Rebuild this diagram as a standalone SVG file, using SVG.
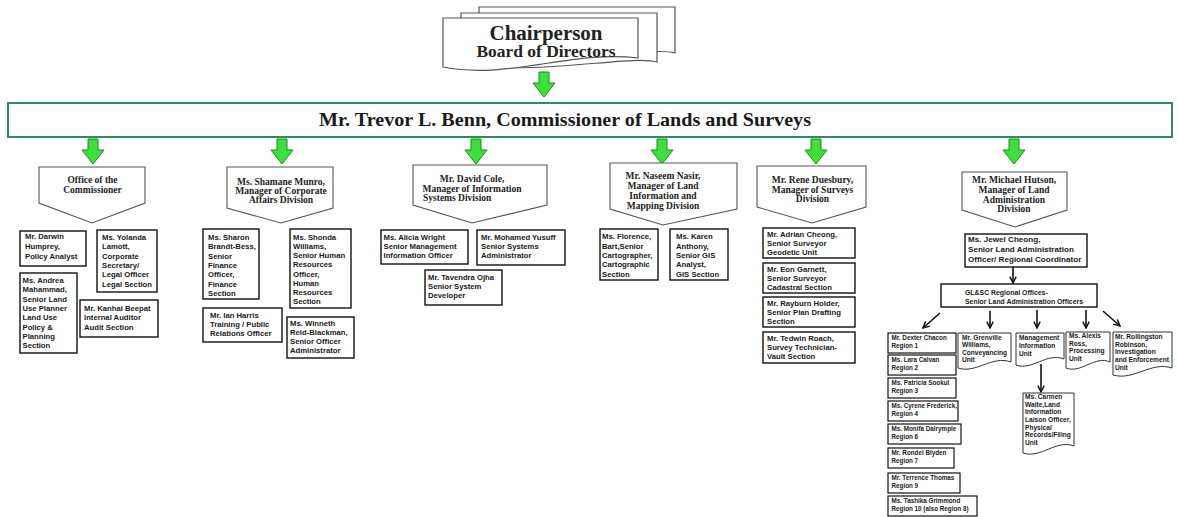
<svg xmlns="http://www.w3.org/2000/svg" xmlns:xlink="http://www.w3.org/1999/xlink" width="1178" height="517" viewBox="0 0 1178 517">
<style>
.doc{fill:#fff;stroke:#555;stroke-width:1.2}
.pent{fill:#fff;stroke:#555;stroke-width:1.1}
.box{fill:#fff;stroke:#111;stroke-width:1.4}
.rbox{fill:#fff;stroke:#111;stroke-width:1.2}
.wdoc{fill:#fff;stroke:#333;stroke-width:1}
.p{font-family:"Liberation Serif",serif;font-weight:bold;font-size:9.5px;fill:#222;text-anchor:middle}
.b{font-family:"Liberation Sans",Arial,sans-serif;font-weight:bold;font-size:7.7px;fill:#1a1a1a}
.s{font-family:"Liberation Sans",Arial,sans-serif;font-weight:bold;font-size:6.3px;fill:#1a1a1a}
.d{font-family:"Liberation Sans",Arial,sans-serif;font-weight:bold;font-size:6.6px;fill:#1a1a1a}
.garrow{fill:#3be03b;stroke:#1f8a1f;stroke-width:1}
.conn{stroke:#111;stroke-width:1.6;fill:none;marker-end:url(#ah)}
</style>
<defs>
<polygon id="ga" points="-5,0 5,0 5,11 11,11 0,25 -11,11 -5,11"/>
<marker id="ah" viewBox="0 0 10 10" refX="9" refY="5" markerWidth="8" markerHeight="8" orient="auto" markerUnits="userSpaceOnUse">
<path d="M1,1 L9,5 L1,9" fill="none" stroke="#111" stroke-width="1.8"/>
</marker>
</defs>
<rect width="1178" height="517" fill="#fff"/>

<g id="chairperson">
<path class="doc" d="M479,7 H675 V53 C650,46 560,66 479,60 Z"/>
<path class="doc" d="M461,13 H657 V62 C630,55 550,74 461,66 Z"/>
<path class="doc" d="M443,18 H638 V58 C570,50 510,80 443,67 Z"/>
<text x="546" y="40" font-family="Liberation Serif,serif" font-weight="bold" font-size="20" fill="#222" text-anchor="middle" textLength="113" lengthAdjust="spacingAndGlyphs">Chairperson</text>
<text x="546" y="57" font-family="Liberation Serif,serif" font-weight="bold" font-size="16" fill="#222" text-anchor="middle" textLength="139" lengthAdjust="spacingAndGlyphs">Board of Directors</text>
</g>

<g id="commissioner">
<rect x="8" y="103" width="1164" height="34" fill="#fff" stroke="#2f8a5c" stroke-width="2"/>
<text x="565" y="126" font-family="Liberation Serif,serif" font-weight="bold" font-size="19" fill="#1a1a1a" text-anchor="middle" textLength="492" lengthAdjust="spacingAndGlyphs">Mr. Trevor L. Benn, Commissioner of Lands and Surveys</text>
</g>

<g id="connectors">
<use href="#ga" class="garrow" x="544" y="72"/>
<use href="#ga" class="garrow" x="93" y="139"/>
<use href="#ga" class="garrow" x="282" y="139"/>
<use href="#ga" class="garrow" x="476" y="139"/>
<use href="#ga" class="garrow" x="662" y="139"/>
<use href="#ga" class="garrow" x="816" y="139"/>
<use href="#ga" class="garrow" x="1014" y="139"/>
<path class="conn" d="M1013,267 L1013,283"/>
<path class="conn" d="M940,313 L923,328"/>
<path class="conn" d="M990,311 L990,328"/>
<path class="conn" d="M1037,310 L1037,328"/>
<path class="conn" d="M1086,310 L1086,328"/>
<path class="conn" d="M1103,311 L1120,326"/>
<path class="conn" d="M1041,364 L1041,392"/>
</g>

<g id="office-commissioner">
<path class="pent" d="M39,167 H145 V203 L92,223 L39,203 Z"/>
<text class="p" x="92.5" y="183">Office of the</text>
<text class="p" x="92.5" y="193">Commissioner</text>
</g>
<g id="darwin"><rect class="box" x="20" y="231" width="66" height="35"/>
<text class="b" x="25" y="239">Mr. Darwin</text><text class="b" x="25" y="249">Humprey,</text><text class="b" x="25" y="258.5">Policy Analyst</text></g>
<g id="yolanda"><rect class="box" x="97" y="230" width="60" height="62"/>
<text class="b" x="102" y="240">Ms. Yolanda</text><text class="b" x="102" y="249.3">Lamott,</text><text class="b" x="102" y="258.7">Corporate</text><text class="b" x="102" y="268">Secretary/</text><text class="b" x="102" y="277.3">Legal Officer</text><text class="b" x="102" y="286.7">Legal Section</text></g>
<g id="andrea"><rect class="box" x="20" y="273" width="57" height="80"/>
<text class="b" x="22.5" y="282.7">Ms. Andrea</text><text class="b" x="22.5" y="292.2">Mahammad,</text><text class="b" x="22.5" y="301.7">Senior Land</text><text class="b" x="22.5" y="311">Use Planner</text><text class="b" x="22.5" y="320.3">Land Use</text><text class="b" x="22.5" y="329.5">Policy &amp;</text><text class="b" x="22.5" y="339">Planning</text><text class="b" x="22.5" y="348.3">Section</text></g>
<g id="kanhai"><rect class="box" x="80" y="300" width="78" height="37"/>
<text class="b" x="84" y="310.7">Mr. Kanhai Beepat</text><text class="b" x="84" y="320.2">Internal Auditor</text><text class="b" x="84" y="329.7">Audit Section</text></g>

<g id="shamane">
<path class="pent" d="M227,167 H333 V208 L281,223 L227,208 Z"/>
<text class="p" x="281" y="185">Ms. Shamane Munro,</text>
<text class="p" x="281" y="194">Manager of Corporate</text>
<text class="p" x="281" y="203">Affairs Division</text>
</g>
<g id="sharon"><rect class="box" x="203" y="229" width="56" height="70"/>
<text class="b" x="208" y="240">Ms. Sharon</text><text class="b" x="208" y="249.3">Brandt-Bess,</text><text class="b" x="208" y="258.6">Senior</text><text class="b" x="208" y="267.9">Finance</text><text class="b" x="208" y="277.2">Officer,</text><text class="b" x="208" y="286.5">Finance</text><text class="b" x="208" y="295.8">Section</text></g>
<g id="shonda"><rect class="box" x="290" y="229" width="61" height="79"/>
<text class="b" x="293" y="240">Ms. Shonda</text><text class="b" x="293" y="249">Williams,</text><text class="b" x="293" y="258">Senior Human</text><text class="b" x="293" y="267.3">Resources</text><text class="b" x="293" y="276.7">Officer,</text><text class="b" x="293" y="286">Human</text><text class="b" x="293" y="295">Resources</text><text class="b" x="293" y="304">Section</text></g>
<g id="ian"><rect class="box" x="203" y="308" width="79" height="34"/>
<text class="b" x="210" y="318">Mr. Ian Harris</text><text class="b" x="210" y="327">Training / Public</text><text class="b" x="210" y="336">Relations Officer</text></g>
<g id="winneth"><rect class="box" x="287" y="317" width="67" height="41"/>
<text class="b" x="290" y="326">Ms. Winneth</text><text class="b" x="290" y="335">Reid-Blackman,</text><text class="b" x="290" y="344">Senior Officer</text><text class="b" x="290" y="353">Administrator</text></g>

<g id="david">
<path class="pent" d="M413,165 H547 V205 L472,223 L413,205 Z"/>
<text class="p" x="472" y="182">Mr. David  Cole,</text>
<text class="p" x="472" y="192">Manager of Information</text>
<text class="p" x="423" y="201" style="text-anchor:start">Systems Division</text>
</g>
<g id="alicia"><rect class="box" x="381" y="230" width="87" height="34"/>
<text class="b" x="383.5" y="240">Ms. Alicia Wright</text><text class="b" x="383.5" y="249">Senior Management</text><text class="b" x="383.5" y="258">Information Officer</text></g>
<g id="mohamed"><rect class="box" x="477" y="230" width="88" height="35"/>
<text class="b" x="481" y="240">Mr. Mohamed Yusuff</text><text class="b" x="481" y="249">Senior Systems</text><text class="b" x="481" y="258">Administrator</text></g>
<g id="tavendra"><rect class="box" x="425" y="270" width="77" height="35"/>
<text class="b" x="428" y="280">Mr. Tavendra Ojha</text><text class="b" x="428" y="289">Senior System</text><text class="b" x="428" y="298">Developer</text></g>

<g id="naseem">
<path class="pent" d="M610,163 H737 V209 L663,225 L610,209 Z"/>
<text class="p" x="663" y="179">Mr. Naseem Nasir,</text>
<text class="p" x="663" y="189">Manager of Land</text>
<text class="p" x="663" y="199">Information and</text>
<text class="p" x="663" y="209">Mapping Division</text>
</g>
<g id="florence"><rect class="box" x="600" y="229" width="58" height="51"/>
<text class="b" x="602" y="239.3">Ms. Florence,</text><text class="b" x="602" y="248.5">Bart,Senior</text><text class="b" x="602" y="257.8">Cartographer,</text><text class="b" x="602" y="267.2">Cartographic</text><text class="b" x="602" y="276.6">Section</text></g>
<g id="karen"><rect class="box" x="670" y="229" width="58" height="51"/>
<text class="b" x="676" y="239.3">Ms. Karen</text><text class="b" x="676" y="248.5">Anthony,</text><text class="b" x="676" y="257.8">Senior GIS</text><text class="b" x="676" y="267.2">Analyst,</text><text class="b" x="676" y="276.6">GIS Section</text></g>

<g id="rene">
<path class="pent" d="M757,166 H866 V207 L812,223 L757,207 Z"/>
<text class="p" x="812.5" y="183">Mr. Rene Duesbury,</text>
<text class="p" x="812.5" y="192.5">Manager of Surveys</text>
<text class="p" x="812.5" y="202">Division</text>
</g>
<g id="adrian"><rect class="box" x="763" y="228" width="92" height="30"/>
<text class="b" x="767" y="236.7">Mr. Adrian Cheong,</text><text class="b" x="767" y="246">Senior Surveyor</text><text class="b" x="767" y="255">Geodetic Unit</text></g>
<g id="eon"><rect class="box" x="763" y="263" width="92" height="30"/>
<text class="b" x="767" y="271.7">Mr. Eon Garnett,</text><text class="b" x="767" y="281">Senior Surveyor</text><text class="b" x="767" y="290">Cadastral Section</text></g>
<g id="rayburn"><rect class="box" x="763" y="297" width="92" height="30"/>
<text class="b" x="767" y="305.5">Mr. Rayburn Holder,</text><text class="b" x="767" y="314.5">Senior Plan Drafting</text><text class="b" x="767" y="323.5">Section</text></g>
<g id="tedwin"><rect class="box" x="763" y="332" width="92" height="31"/>
<text class="b" x="767" y="340.5">Mr. Tedwin Roach,</text><text class="b" x="767" y="349.5">Survey Technician-</text><text class="b" x="767" y="358.5">Vault Section</text></g>

<g id="michael">
<path class="pent" d="M962,172 H1067 V210 L1015,227 L962,210 Z"/>
<text class="p" x="1014" y="183">Mr. Michael Hutson,</text>
<text class="p" x="1014" y="193">Manager of Land</text>
<text class="p" x="1014" y="202.5">Administration</text>
<text class="p" x="1014" y="212">Division</text>
</g>
<g id="jewel"><rect class="box" x="965" y="234" width="122" height="33"/>
<text class="b" x="968" y="241.5" style="font-size:8.1px">Ms. Jewel Cheong,</text><text class="b" x="968" y="251.5" style="font-size:8.1px">Senior Land Administration</text><text class="b" x="968" y="261.5" style="font-size:8.1px">Officer/ Regional Coordinator</text></g>
<g id="glsc"><rect class="box" x="941" y="284" width="156" height="23"/>
<text class="d" x="965" y="295" style="font-size:6.9px">GL&amp;SC Regional Offices-</text><text class="d" x="965" y="304" style="font-size:6.9px">Senior Land Administration Officers</text></g>

<g id="dexter"><rect class="rbox" x="888" y="333" width="68" height="20"/>
<text class="s" x="891.5" y="340.3">Mr. Dexter Chacon</text><text class="s" x="891.5" y="348">Region 1</text></g>
<g id="lara"><rect class="rbox" x="888" y="355" width="68" height="20"/>
<text class="s" x="891.5" y="362">Ms. Lara Calvan</text><text class="s" x="891.5" y="370">Region 2</text></g>
<g id="patricia"><rect class="rbox" x="888" y="378" width="68" height="20"/>
<text class="s" x="891.5" y="385">Ms. Patricia Sookul</text><text class="s" x="891.5" y="393">Region 3</text></g>
<g id="cyrene"><rect class="rbox" x="888" y="401" width="70" height="20"/>
<text class="s" x="891.5" y="408">Ms. Cyrene Frederick,</text><text class="s" x="891.5" y="416">Region 4</text></g>
<g id="monifa"><rect class="rbox" x="888" y="424" width="73" height="20"/>
<text class="s" x="891.5" y="431">Ms. Monifa Dalrymple</text><text class="s" x="891.5" y="439">Region 6</text></g>
<g id="rondel"><rect class="rbox" x="888" y="448" width="66" height="20"/>
<text class="s" x="891.5" y="455">Mr. Rondel Blyden</text><text class="s" x="891.5" y="463">Region 7</text></g>
<g id="terrence"><rect class="rbox" x="888" y="473" width="72" height="20"/>
<text class="s" x="891.5" y="480">Mr. Terrence Thomas</text><text class="s" x="891.5" y="488">Region 9</text></g>
<g id="tashika"><rect class="rbox" x="888" y="496" width="89" height="20"/>
<text class="s" x="891.5" y="503">Ms. Tashika Grimmond</text><text class="s" x="891.5" y="511">Region 10 (also Region 8)</text></g>

<g id="grenville"><path class="wdoc" d="M958,333 H1011 V362 C992,355 976,374 958,368 Z"/>
<text class="d" x="962" y="339.5">Mr. Grenville</text><text class="d" x="962" y="347">Williams,</text><text class="d" x="962" y="354.5">Conveyancing</text><text class="d" x="962" y="362">Unit</text></g>
<g id="management"><path class="wdoc" d="M1016,333 H1064 V359 C1047,352 1032,371 1016,365 Z"/>
<text class="d" x="1019" y="339.5">Management</text><text class="d" x="1019" y="347.5">Information</text><text class="d" x="1019" y="355.5">Unit</text></g>
<g id="alexis"><path class="wdoc" d="M1066,332 H1110 V362 C1095,355 1081,374 1066,368 Z"/>
<text class="d" x="1069" y="337.5">Ms. Alexis</text><text class="d" x="1069" y="345.5">Ross,</text><text class="d" x="1069" y="353.3">Processing</text><text class="d" x="1069" y="361">Unit</text></g>
<g id="rollingston"><path class="wdoc" d="M1113,332 H1172 V368 C1151,361 1134,381 1113,375 Z"/>
<text class="d" x="1115" y="339.3">Mr. Rollingston</text><text class="d" x="1115" y="346.8">Robinson,</text><text class="d" x="1115" y="354.3">Investigation</text><text class="d" x="1115" y="362">and Enforcement</text><text class="d" x="1115" y="369.8">Unit</text></g>
<g id="carmen"><path class="wdoc" d="M1023,393 H1074 V446 C1056,439 1041,459 1023,453 Z"/>
<text class="d" x="1025" y="399.3">Ms. Carmen</text><text class="d" x="1025" y="406.8">Waite,Land</text><text class="d" x="1025" y="414.3">Information</text><text class="d" x="1025" y="422">Laison Officer,</text><text class="d" x="1025" y="429.5">Physical</text><text class="d" x="1025" y="437.3">Records/Filing</text><text class="d" x="1025" y="445">Unit</text></g>
</svg>
